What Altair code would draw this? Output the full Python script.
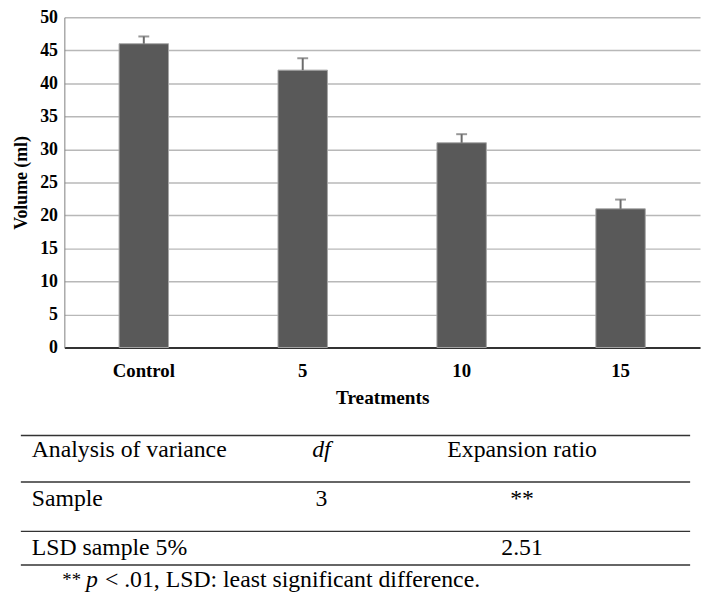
import altair as alt
import pandas as pd

# ---- chart data ----
treatments = ["Control", "5", "10", "15"]
volumes = [46, 42, 31, 21]
errors = [1.1, 1.8, 1.3, 1.4]
y_ticks = [0, 5, 10, 15, 20, 25, 30, 35, 40, 45, 50]

# ---- table data ----
anova_labels = ["Analysis of variance", "Sample", "LSD sample 5%"]
df_values = ["df", "3", ""]
ratio_values = ["Expansion ratio", "**", "2.51"]
footnote_parts = ["**", "p", "< .01, LSD: least significant difference."]

SERIF = "Liberation Serif"

bars_df = pd.DataFrame({"Treatments": treatments, "Volume": volumes, "err": errors})
bars_df["top"] = bars_df["Volume"] + bars_df["err"]

x_axis = alt.Axis(
    title="Treatments",
    labelAngle=0,
    labelAlign="center",
    labelBaseline="top",
    labelFont=SERIF,
    labelFontWeight="bold",
    labelFontSize=19,
    labelColor="black",
    labelPadding=14,
    ticks=False,
    domainColor="black",
    domainWidth=1.5,
    titleFont=SERIF,
    titleFontSize=19.5,
    titleFontWeight="bold",
    titleColor="black",
    titlePadding=9,
    grid=False,
)
x_enc = alt.X(
    "Treatments:N",
    sort=treatments,
    scale=alt.Scale(paddingInner=0, paddingOuter=0),
    axis=x_axis,
)

y_scale = alt.Scale(domain=[0, 50], nice=False)
y_axis = alt.Axis(
    values=y_ticks,
    title="Volume (ml)",
    labelAlign="right",
    labelBaseline="middle",
    labelFont=SERIF,
    labelFontWeight="bold",
    labelFontSize=18,
    labelColor="black",
    labelPadding=7,
    ticks=False,
    domainColor="#7f7f7f",
    domainWidth=1,
    grid=True,
    gridColor="#b8b8b8",
    gridWidth=1.5,
    titleFont=SERIF,
    titleFontSize=18,
    titleFontWeight="bold",
    titleColor="black",
    titlePadding=9,
)

base = alt.Chart(bars_df)

bars = base.mark_bar(size=50, color="#595959", stroke="#a6a6a6", strokeWidth=1).encode(
    x=x_enc, y=alt.Y("Volume:Q", scale=y_scale, axis=y_axis)
)
err_rule = base.mark_rule(color="#6b6b6b", strokeWidth=2).encode(
    x=x_enc,
    y=alt.Y("Volume:Q", scale=y_scale, axis=y_axis),
    y2="top:Q",
)
err_cap = base.mark_tick(color="#6b6b6b", thickness=2, size=11).encode(
    x=x_enc,
    y=alt.Y("top:Q", scale=y_scale, axis=y_axis),
)

bar_group = alt.layer(bars, err_rule, err_cap)

# ---- table below (positions relative to plot origin) ----
tdf = pd.DataFrame({"label": anova_labels, "df": df_values, "ratio": ratio_values})
tbase = alt.Chart(tdf)
row_y = alt.Y(
    "label:N",
    sort=anova_labels,
    scale=alt.Scale(type="point", range=[438, 537], padding=0),
    axis=None,
)
text_style = dict(font=SERIF, fontSize=24, color="black", baseline="middle")

col0 = tbase.mark_text(align="left", **text_style).encode(
    x=alt.value(-33), y=row_y, text="label:N"
)
col1_head = (
    tbase.transform_filter(alt.datum.label == anova_labels[0])
    .mark_text(align="center", fontStyle="italic", **text_style)
    .encode(x=alt.value(260), y=row_y, text="df:N")
)
col1_body = (
    tbase.transform_filter(alt.datum.label != anova_labels[0])
    .mark_text(align="center", **text_style)
    .encode(x=alt.value(260), y=row_y, text="df:N")
)
col2 = tbase.mark_text(align="center", **text_style).encode(
    x=alt.value(463), y=row_y, text="ratio:N"
)

rule_ys = [423, 470, 520, 554]
rule_layers = [
    alt.Chart(pd.DataFrame({"k": [i]}))
    .mark_rule(color="#333333", strokeWidth=1.5)
    .encode(x=alt.value(-44), x2=alt.value(633), y=alt.value(yy))
    for i, yy in enumerate(rule_ys)
]

foot_x = [-2, 22, 41]
foot_style = [None, "italic", None]
foot_size = [19, 24, 24]
foot_layers = []
for part, fx, fs, fz in zip(footnote_parts, foot_x, foot_style, foot_size):
    kw = dict(text_style)
    kw["fontSize"] = fz
    if fs:
        kw["fontStyle"] = fs
    foot_layers.append(
        alt.Chart(pd.DataFrame({"t": [part]}))
        .mark_text(align="left", **kw)
        .encode(x=alt.value(fx), y=alt.value(569), text="t:N")
    )

table_group = alt.layer(col0, col1_head, col1_body, col2, *rule_layers, *foot_layers)

chart = (
    alt.layer(bar_group, table_group)
    .resolve_scale(y="independent")
    .properties(
        width=643,
        height=334,
        autosize=alt.AutoSizeParams(type="none"),
        padding={"left": 57, "top": 6, "right": 1, "bottom": 252},
        background="white",
    )
    .configure_view(stroke=None)
)

chart.save("out.html", embed_options={"renderer": "svg", "actions": False})
